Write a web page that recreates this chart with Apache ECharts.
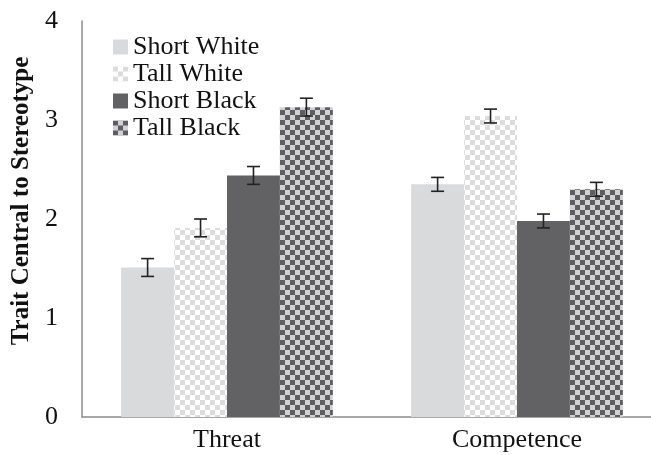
<!DOCTYPE html>
<html>
<head>
<meta charset="utf-8">
<script src="https://cdn.jsdelivr.net/npm/echarts@6/dist/echarts.min.js"></script>
<style>
  html, body { margin: 0; padding: 0; background: #fff; }
  #chart { width: 651px; height: 455px; }
</style>
</head>
<body>
<div id="chart"></div>
<script>
const categories = ["Threat", "Competence"];
const seriesNames = ["Short White", "Tall White", "Short Black", "Tall Black"];
const shortWhite = [1.51, 2.35];
const tallWhite = [1.91, 3.04];
const shortBlack = [2.44, 1.98];
const tallBlack = [3.13, 2.30];
const errShortWhite = [0.09, 0.07];
const errTallWhite = [0.09, 0.07];
const errShortBlack = [0.09, 0.07];
const errTallBlack = [0.09, 0.07];

const values = [shortWhite, tallWhite, shortBlack, tallBlack];
const errors = [errShortWhite, errTallWhite, errShortBlack, errTallBlack];

function checker(c1, c2, s) {
  const cv = document.createElement("canvas");
  cv.width = s * 2;
  cv.height = s * 2;
  const ctx = cv.getContext("2d");
  ctx.fillStyle = c1;
  ctx.fillRect(0, 0, s * 2, s * 2);
  ctx.fillStyle = c2;
  ctx.fillRect(0, 0, s, s);
  ctx.fillRect(s, s, s, s);
  return cv;
}

const fills = [
  "#d9dadc",
  { image: checker("#ffffff", "#dcdcdc", 5), repeat: "repeat" },
  "#626264",
  { image: checker("#d2d2d4", "#5e5e60", 5), repeat: "repeat" },
];

const font = "Liberation Serif";
const catGap = 0.27;
const barSeries = seriesNames.map((name, i) => ({
  name: name,
  type: "bar",
  data: values[i],
  barGap: "0%",
  barCategoryGap: (catGap * 100) + "%",
  itemStyle: { color: fills[i] },
}));

// error bars drawn per series, aligned to bar positions
const nSeries = seriesNames.length;
const errSeries = seriesNames.map((name, i) => ({
  type: "custom",
  name: name + " err",
  data: categories.map((c, j) => [j, values[i][j] - errors[i][j], values[i][j] + errors[i][j]]),
  z: 10,
  renderItem: function (params, api) {
    const idx = api.value(0);
    const lo = api.coord([idx, api.value(1)]);
    const hi = api.coord([idx, api.value(2)]);
    const band = api.size([1, 0])[0];
    const groupW = band * (1 - catGap);
    const barW = groupW / nSeries;
    const x = lo[0] - groupW / 2 + barW * (i + 0.5);
    const cap = 6.5;
    const style = { stroke: "#222", lineWidth: 1.6 };
    return {
      type: "group",
      children: [
        { type: "line", shape: { x1: x, y1: lo[1], x2: x, y2: hi[1] }, style: style },
        { type: "line", shape: { x1: x - cap, y1: lo[1], x2: x + cap, y2: lo[1] }, style: style },
        { type: "line", shape: { x1: x - cap, y1: hi[1], x2: x + cap, y2: hi[1] }, style: style },
      ],
    };
  },
}));

const chart = echarts.init(document.getElementById("chart"));
chart.setOption({
  animation: false,
  backgroundColor: "#fff",
  textStyle: { fontFamily: font },
  grid: { left: 82, right: -11, top: 21, bottom: 38, outerBoundsMode: "none", containLabel: false },
  legend: {
    data: seriesNames,
    orient: "vertical",
    left: 108,
    top: 29,
    icon: "rect",
    itemWidth: 15,
    itemHeight: 15,
    itemGap: 1,
    textStyle: { fontFamily: font, fontSize: 26, color: "#111" },
  },
  xAxis: {
    type: "category",
    data: categories,
    axisLine: { lineStyle: { color: "#8c8c8c", width: 1.5 } },
    axisTick: { show: false },
    axisLabel: { fontFamily: font, fontSize: 26, color: "#111", margin: 10 },
  },
  yAxis: {
    type: "value",
    min: 0,
    max: 4,
    interval: 1,
    name: "Trait Central to Stereotype",
    nameLocation: "middle",
    nameGap: 47,
    nameTextStyle: { fontFamily: font, fontSize: 25, fontWeight: "bold", color: "#111", padding: [0, 0, 0, 36] },
    axisLine: { show: true, lineStyle: { color: "#8c8c8c", width: 1.5 } },
    axisTick: { show: false },
    splitLine: { show: false },
    axisLabel: { fontFamily: font, fontSize: 26, color: "#111", margin: 24 },
  },
  series: barSeries.concat(errSeries),
});
</script>
</body>
</html>
